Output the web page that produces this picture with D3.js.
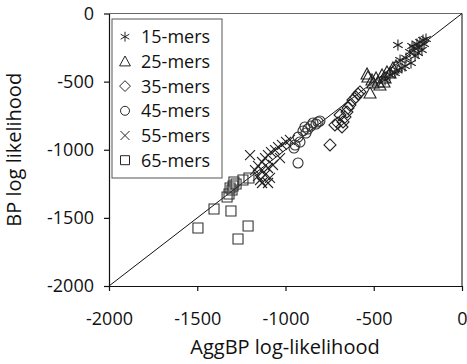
<!DOCTYPE html>
<html><head><meta charset="utf-8">
<script src="https://cdn.jsdelivr.net/npm/d3@7/dist/d3.min.js"></script>
<style>body{margin:0;background:#fff}svg{display:block}text{font-family:"Open Sans",sans-serif}</style>
</head><body><svg id="c" width="467" height="364"></svg>
<script>
const xTicks = [-2000, -1500, -1000, -500, 0];
const yTicks = [-2000, -1500, -1000, -500, 0];
const seriesNames = ["15-mers", "25-mers", "35-mers", "45-mers", "55-mers", "65-mers"];
const mers15 = [[-363,-231],[-351,-341],[-317,-327],[-289,-363],[-295,-283],[-272,-253],[-255,-224],[-238,-209],[-221,-195],[-204,-187],[-249,-290],[-227,-268],[-266,-312],[-283,-239],[-323,-385],[-368,-415],[-408,-451],[-436,-488],[-380,-437],[-340,-400],[-244,-246],[-215,-224]];
const mers25 = [[-538,-444],[-533,-466],[-504,-510],[-521,-584],[-465,-525],[-436,-473],[-408,-437],[-391,-400],[-487,-473],[-453,-451],[-425,-429],[-476,-503],[-510,-488],[-374,-385],[-442,-503]];
const mers35 = [[-748,-965],[-691,-745],[-652,-723],[-674,-796],[-703,-804],[-635,-672],[-618,-635],[-601,-613],[-663,-760],[-720,-818],[-589,-591],[-646,-694],[-680,-833],[-578,-576]];
const mers45 = [[-946,-965],[-929,-907],[-918,-943],[-901,-862],[-890,-833],[-873,-848],[-856,-826],[-844,-804],[-827,-811],[-816,-796],[-805,-789],[-929,-1097],[-952,-987],[-884,-877]];
const mers55 = [[-1201,-1039],[-1173,-1149],[-1156,-1119],[-1133,-1090],[-1116,-1061],[-1099,-1039],[-1082,-1017],[-1059,-1002],[-1042,-980],[-1020,-965],[-997,-943],[-975,-928],[-1088,-1207],[-1116,-1185],[-1144,-1222],[-1133,-1149],[-1071,-1112],[-1099,-1134],[-1156,-1193],[-1031,-1061],[-1133,-1244],[-1099,-1244]];
const mers65 = [[-1496,-1574],[-1405,-1435],[-1309,-1450],[-1269,-1655],[-1212,-1560],[-1331,-1347],[-1320,-1325],[-1297,-1266],[-1292,-1237],[-1303,-1295],[-1280,-1251],[-1241,-1222],[-1207,-1207],[-1314,-1281]];
const seriesData = [mers15, mers25, mers35, mers45, mers55, mers65];

const svg = d3.select("#c");
const L = 109, R = 462, T = 13.5, B = 286;
const x = d3.scaleLinear().domain([-2000, 0]).range([L, R]);
const y = d3.scaleLinear().domain([-2000, 0]).range([B, T]);

// frame top/right
svg.append("line").attr("x1", L).attr("x2", R).attr("y1", T).attr("y2", T).attr("stroke", "#666").attr("stroke-width", 1.2);
svg.append("line").attr("x1", R).attr("x2", R).attr("y1", T).attr("y2", B).attr("stroke", "#777").attr("stroke-width", 1.8);

const gx = svg.append("g").attr("transform", `translate(0,${B})`)
  .call(d3.axisBottom(x).tickValues(xTicks).tickSize(5).tickSizeOuter(0).tickPadding(21).tickFormat(d => String(d)));
const gy = svg.append("g").attr("transform", `translate(${L},0)`)
  .call(d3.axisLeft(y).tickValues(yTicks).tickSize(5).tickSizeOuter(0).tickPadding(10).tickFormat(d => String(d)));
[gx, gy].forEach(g => {
  g.selectAll("text").attr("font-size", 18).attr("font-family", "'Open Sans',sans-serif").attr("fill", "#111");
  g.selectAll("line,path").attr("stroke", "#111").attr("stroke-width", 1.2);
});

// diagonal
svg.append("line").attr("x1", x(-2000)).attr("y1", y(-2000)).attr("x2", x(0)).attr("y2", y(0)).attr("stroke", "#111").attr("stroke-width", 1);

function sym(i) {
  const s = 5.5;
  switch (i) {
    case 0: { const a = s * Math.cos(Math.PI / 6), b = s * Math.sin(Math.PI / 6);
      return `M0,${-s}L0,${s}M${-a},${-b}L${a},${b}M${-a},${b}L${a},${-b}`; }
    case 1: return `M0,-6L6,5L-6,5Z`;
    case 2: return `M0,-6L6,0L0,6L-6,0Z`;
    case 3: return d3.symbol(d3.symbolCircle, Math.PI * 5 * 5)();
    case 4: return `M-5,-5L5,5M-5,5L5,-5`;
    case 5: return `M-5,-5H5V5H-5Z`;
  }
}
const colors = ["#222", "#222", "#222", "#333", "#222", "#333"];
seriesData.forEach((data, i) => {
  svg.append("g").selectAll("path").data(data).join("path")
    .attr("d", sym(i))
    .attr("transform", d => `translate(${x(d[0])},${y(d[1])})`)
    .attr("fill", "none").attr("stroke", colors[i]).attr("stroke-width", 1.1);
});

// legend
const lg = svg.append("g");
lg.append("rect").attr("x", 112).attr("y", 19).attr("width", 110).attr("height", 159)
  .attr("fill", "#fff").attr("stroke", "#555").attr("stroke-width", 1);
seriesNames.forEach((n, i) => {
  const cy = 36.7 + i * 24.7;
  lg.append("path").attr("d", sym(i)).attr("transform", `translate(125,${cy}) scale(0.9)`)
    .attr("fill", "none").attr("stroke", "#222").attr("stroke-width", 1.1);
  lg.append("text").attr("x", 141).attr("y", cy + 6.5).attr("font-size", 18).attr("fill", "#111").text(n);
});

// axis titles
svg.append("text").attr("x", (L + R) / 2 - 0.5).attr("y", 354).attr("text-anchor", "middle").attr("font-size", 20).attr("fill", "#111").text("AggBP log-likelihood");
svg.append("text").attr("transform", `translate(21,${(T + B) / 2}) rotate(-90)`).attr("text-anchor", "middle").attr("font-size", 20).attr("fill", "#111").text("BP log likelihood");
</script></body></html>
